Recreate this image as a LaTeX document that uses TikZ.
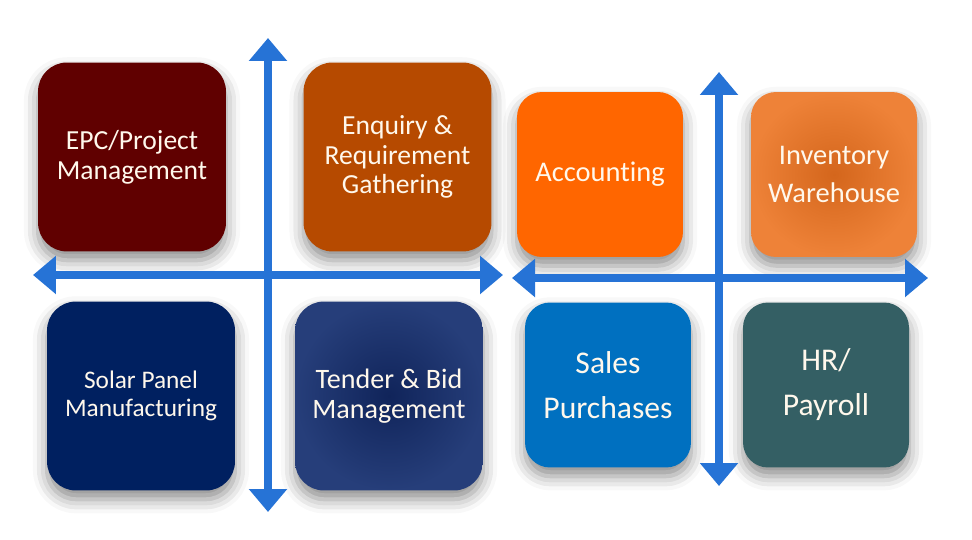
\documentclass[tikz,border=0pt]{standalone}
\usepackage{fontspec}
\setmainfont{Carlito}[Ligatures=NoCommon]
\usepackage{tikz}
\usetikzlibrary{arrows.meta,shadows.blur,positioning}
\definecolor{epcred}{RGB}{96,0,0}
\definecolor{enqbrown}{RGB}{182,74,0}
\definecolor{solarnavy}{RGB}{0,32,96}
\definecolor{tenderin}{RGB}{16,36,90}
\definecolor{tenderout}{RGB}{38,62,122}
\definecolor{accorange}{RGB}{255,102,0}
\definecolor{invin}{RGB}{212,102,28}
\definecolor{invout}{RGB}{238,130,56}
\definecolor{salesblue}{RGB}{0,112,192}
\definecolor{hrteal}{RGB}{52,95,100}
\definecolor{arrowblue}{RGB}{38,115,214}
\definecolor{tiletext}{RGB}{255,248,236}

\begin{document}
\begin{tikzpicture} [x=0.02cm, y=-0.02cm,
    >={Triangle[width=7.4mm,length=4.6mm]},
    twoway/.style={<->, draw=arrowblue, line width=4.6pt},
    tile/.style={rounded corners=5.8mm, minimum width=3.76cm, minimum height=3.78cm,
      inner sep=0pt, align=center, text=tiletext,
      blur shadow={shadow xshift=0pt, shadow yshift=-5pt, shadow blur radius=8pt, shadow opacity=45}},
    smalltile/.style={tile, rounded corners=5mm, minimum width=3.32cm, minimum height=3.3cm}]
  \useasboundingbox (0,0) rectangle (972,540);

  % ends of the two crosses
  \coordinate (lw) at (33,275);
  \coordinate (le) at (503,275);
  \coordinate (ln) at (268,38);
  \coordinate (ls) at (268,512);
  \coordinate (rw) at (512,278);
  \coordinate (re) at (928,278);
  \coordinate (rn) at (719,72);
  \coordinate (rs) at (719,486);

  \node[tile, fill=epcred, font=\fontsize{15.7}{17}\selectfont] (epc) at (132,157) {EPC/Project\\Management};
  \node[tile, fill=enqbrown, font=\fontsize{15.7}{17}\selectfont] (enq) at (397.5,157) {Enquiry \&\\Requirement\\Gathering};
  \node[tile, fill=solarnavy, font=\fontsize{14.4}{16}\selectfont] (solar) at (141,396) {Solar Panel\\Manufacturing};
  \node[tile, inner color=tenderin, outer color=tenderout, font=\fontsize{16}{17}\selectfont] (tender) at (389,396) {Tender \& Bid\\Management};

  \node[smalltile, fill=accorange, font=\fontsize{16.2}{20}\selectfont] (acc) at (600,174.5) {Accounting};
  \node[smalltile, inner color=invin, outer color=invout, font=\fontsize{16.2}{22}\selectfont] (inv) at (834,174.5) {Inventory\\Warehouse};
  \node[smalltile, fill=salesblue, font=\fontsize{18}{25.6}\selectfont] (sales) at (608,385) {Sales\\Purchases};
  \node[smalltile, fill=hrteal, font=\fontsize{18}{25.6}\selectfont] (hr) at (826,385) {HR/\\Payroll};

  \draw[twoway] (lw) -- (le);
  \draw[twoway] (ln) -- (ls);
  \draw[twoway] (rw) -- (re);
  \draw[twoway] (rn) -- (rs);
\end{tikzpicture}
\end{document}
